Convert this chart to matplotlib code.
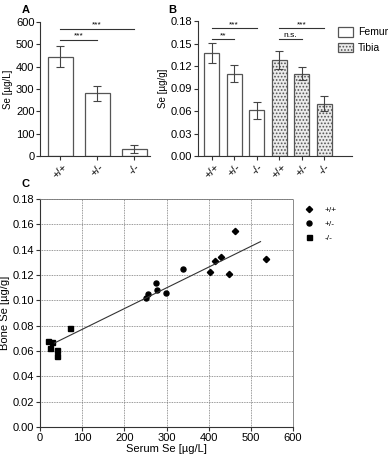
import numpy as np
import matplotlib
matplotlib.use('Agg')
import matplotlib.pyplot as plt
from matplotlib.patches import Patch

plt.rcParams['font.family'] = ['Liberation Sans', 'DejaVu Sans']
plt.rcParams['hatch.color'] = '#8a8a8a'
plt.rcParams['hatch.linewidth'] = 0.8

# panel A: serum Se
genotypes = ['+/+', '+/-', '-/-']
serum_mean = [445, 280, 33]
serum_err = [48, 32, 18]

# panel B: bone Se
femur_mean = [0.137, 0.110, 0.061]
femur_err = [0.013, 0.011, 0.011]
tibia_mean = [0.128, 0.110, 0.070]
tibia_err = [0.012, 0.009, 0.010]

# panel C: serum vs bone
wt_serum = [402, 415, 429, 449, 463, 535]
wt_bone = [0.122, 0.131, 0.134, 0.121, 0.155, 0.133]
het_serum = [252, 256, 274, 277, 298, 339]
het_bone = [0.102, 0.105, 0.114, 0.108, 0.106, 0.125]
ko_serum = [20, 28, 24, 40, 40, 71]
ko_bone = [0.068, 0.067, 0.062, 0.061, 0.056, 0.078]

W, H = 392, 462
fig = plt.figure(figsize=(W / 100, H / 100), dpi=100)

def box(l, t, r, b):
    return [l / W, 1 - b / H, (r - l) / W, (b - t) / H]

ecol = '#555555'
fs = 8


def style_bar_axes(ax):
    for s in ['top', 'right']:
        ax.spines[s].set_visible(False)
    for s in ['left', 'bottom']:
        ax.spines[s].set_color('#333333')
        ax.spines[s].set_linewidth(0.8)
    ax.tick_params(labelsize=fs, length=3, width=0.8, color='#333333', pad=1)


def sig(ax, x1, x2, y, text, dy):
    ax.plot([x1, x2], [y, y], color='#333333', lw=0.8)
    ax.text((x1 + x2) / 2, y + dy, text, ha='center', va='bottom', fontsize=6)


# ---- A
axA = fig.add_axes(box(40, 22, 150, 156))
xa = np.arange(3)
axA.bar(xa, serum_mean, width=0.68, color='white', edgecolor=ecol, lw=0.9,
        yerr=serum_err, error_kw=dict(ecolor='#444444', elinewidth=0.8, capsize=3, capthick=0.8))
axA.set_xlim(-0.55, 2.43)
axA.set_ylim(0, 600)
axA.set_yticks(range(0, 601, 100))
axA.set_xticks(xa)
axA.set_xticklabels(genotypes, rotation=45, ha='center')
axA.set_ylabel('Se [µg/L]', fontsize=7, labelpad=2)
style_bar_axes(axA)
sig(axA, 0, 1, 520, '***', 0)
sig(axA, 0, 2, 570, '***', 0)
fig.text(22 / W, 1 - 10 / H, 'A', fontsize=8, fontweight='bold', va='center')

# ---- B
axB = fig.add_axes(box(198, 21, 352, 156))
xb = np.arange(6)
error_kw = dict(ecolor='#444444', elinewidth=0.8, capsize=3, capthick=0.8)
axB.bar(xb[:3], femur_mean, width=0.66, color='white', edgecolor=ecol, lw=0.9,
        yerr=femur_err, error_kw=error_kw)
axB.bar(xb[3:], tibia_mean, width=0.66, color='#ececec', edgecolor=ecol, lw=0.9,
        hatch='.....', yerr=tibia_err, error_kw=error_kw)
axB.set_xlim(-0.6, 6.22)
axB.set_ylim(0, 0.18)
axB.set_yticks(np.arange(0, 0.181, 0.03))
axB.yaxis.set_major_formatter(plt.FormatStrFormatter('%.2f'))
axB.set_xticks(xb)
axB.set_xticklabels(genotypes * 2, rotation=45, ha='center')
axB.set_ylabel('Se [µg/g]', fontsize=7, labelpad=2)
style_bar_axes(axB)
sig(axB, 0, 2, 0.170, '***', 0)
sig(axB, 0, 1, 0.1556, '**', 0)
sig(axB, 3, 4, 0.1556, 'n.s.', 0)
sig(axB, 3, 5, 0.170, '***', 0)
fig.text(168 / W, 1 - 10 / H, 'B', fontsize=8, fontweight='bold', va='center')
handles = [Patch(facecolor='white', edgecolor=ecol, lw=0.9, label='Femur'),
           Patch(facecolor='#ececec', edgecolor=ecol, lw=0.9, hatch='.....', label='Tibia')]
fig.legend(handles=handles, loc='upper left', bbox_to_anchor=(333 / W, 1 - 22 / H),
           frameon=False, fontsize=7.5, handlelength=1.4, handleheight=1.0,
           labelspacing=0.5, handletextpad=0.5, borderpad=0)

# ---- C
axC = fig.add_axes(box(40, 199, 293, 427))
axC.plot(wt_serum, wt_bone, 'D', color='black', ms=3.2, label='+/+')
axC.plot(het_serum, het_bone, 'o', color='black', ms=3.6, label='+/-')
axC.plot(ko_serum, ko_bone, 's', color='black', ms=3.6, label='-/-')
all_x = np.array(wt_serum + het_serum + ko_serum, dtype=float)
all_y = np.array(wt_bone + het_bone + ko_bone)
k, b = np.polyfit(all_x, all_y, 1)
xl = np.array([all_x.min() + 14, all_x.max() - 12])
axC.plot(xl, k * xl + b, color='#333333', lw=0.8)
axC.set_xlim(0, 600)
axC.set_ylim(0, 0.18)
axC.set_xticks(range(0, 601, 100))
axC.set_yticks(np.arange(0, 0.181, 0.02))
axC.yaxis.set_major_formatter(plt.FormatStrFormatter('%.2f'))
axC.grid(True, color='#777777', ls=(0, (1, 1)), lw=0.6)
for s in ['top', 'right']:
    axC.spines[s].set_color('#777777')
    axC.spines[s].set_linestyle((0, (1, 1)))
    axC.spines[s].set_linewidth(0.6)
for s in ['left', 'bottom']:
    axC.spines[s].set_color('#333333')
    axC.spines[s].set_linewidth(0.8)
axC.tick_params(labelsize=fs, length=3, width=0.8, color='#333333', pad=1)
axC.set_xlabel('Serum Se [µg/L]', fontsize=8, labelpad=1)
axC.set_ylabel('Bone Se [µg/g]', fontsize=8, labelpad=2)
fig.text(22 / W, 1 - 184 / H, 'C', fontsize=8, fontweight='bold', va='center')
fig.legend(handles=axC.get_legend_handles_labels()[0], loc='upper left',
           bbox_to_anchor=(300 / W, 1 - 202 / H), frameon=False, fontsize=6,
           labelspacing=0.75, handletextpad=1.2, borderpad=0, handlelength=1.2)

fig.savefig('out.png', dpi=100)
